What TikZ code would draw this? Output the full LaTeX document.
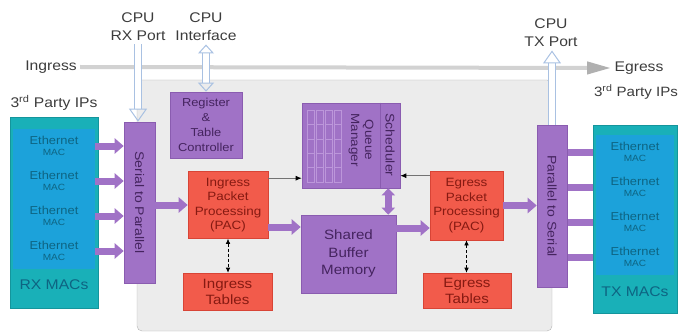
\documentclass[tikz,border=0pt]{standalone}
\usepackage{fontspec}
\setmainfont[FakeStretch=1.12]{Liberation Sans}
\usepackage{tikz}
\usetikzlibrary{arrows.meta}
\usetikzlibrary{backgrounds}

\definecolor{panelgray}{HTML}{ECECEC}
\definecolor{panelline}{HTML}{B4B4B4}
\definecolor{bandgray}{HTML}{D2D2D2}
\definecolor{headgray}{HTML}{B0B0B0}
\definecolor{labelgray}{HTML}{3C3C3C}
\definecolor{blockpurple}{HTML}{A072C6}
\definecolor{purpleline}{HTML}{8A5CB0}
\definecolor{textpurple}{HTML}{45245F}
\definecolor{cellpurple}{HTML}{BC96DA}
\definecolor{blockred}{HTML}{F25B4B}
\definecolor{redline}{HTML}{D84436}
\definecolor{textred}{HTML}{861A12}
\definecolor{macteal}{HTML}{19B0B8}
\definecolor{tealline}{HTML}{14959C}
\definecolor{macblue}{HTML}{1CA2DA}
\definecolor{textteal}{HTML}{0E6482}
\definecolor{portblue}{HTML}{A9C1E2}

\tikzset{
  blk/.style={inner sep=0pt, align=center, line width=0.6pt},
  purplebox/.style={blk, draw=purpleline, fill=blockpurple, text=textpurple},
  redbox/.style={blk, draw=redline, fill=blockred, text=textred},
  macframe/.style={blk, draw=tealline, fill=macteal},
  ethbox/.style={blk, fill=macblue, text=textteal, font=\fontsize{11.5}{11.5}\selectfont},
  biglabel/.style={text=labelgray, align=center, font=\fontsize{14}{18}\selectfont},
  fatarrow/.style={draw=blockpurple, line width=7pt, -{Triangle[length=9pt,width=15pt]}},
  fatboth/.style={draw=blockpurple, line width=7pt, {Triangle[length=7pt,width=13pt]}-{Triangle[length=7pt,width=13pt]}},
  ctrlarrow/.style={draw=black!55, line width=0.8pt, -{Latex[length=6pt,width=5pt,color=black]}},
  lookup/.style={draw=black, densely dashed, line width=0.6pt, {Latex[length=5pt,width=4.5pt]}-{Latex[length=5pt,width=4.5pt]}},
  cpuport/.style={draw=portblue, line width=1pt, double=white, double distance=6pt, -{Triangle[open,length=13pt,width=18pt]}},
  cpuboth/.style={cpuport, {Triangle[open,length=9pt,width=16pt]}-{Triangle[open,length=9pt,width=16pt]}},
  queuecell/.style={draw=cellpurple, line width=0.6pt}
}

\begin{document}
\begin{tikzpicture}[x=1pt,y=-1pt]
\useasboundingbox (0,0) rectangle (679,334);

% switch core
\draw[fill=panelgray, draw=panelline, rounded corners=5pt] (137,80) rectangle (552,331);

% ingress / egress band
\node[biglabel] (ingress) at (51,67) {Ingress};
\node[biglabel] (egress) at (639,68) {Egress};
\draw[draw=bandgray, line width=4pt, -{Triangle[length=24pt,width=12pt,color=headgray]}] (ingress.east) -- (egress.west);

% cpu labels
\node[biglabel] (rxport) at (138,27) {CPU\\RX Port};
\node[biglabel] (cpuif) at (206,27) {CPU\\Interface};
\node[biglabel] (txport) at (551,33) {CPU\\TX Port};

% rx side
\node[biglabel] (rxips) at (54,103) {3\textsuperscript{rd} Party IPs};
\node[macframe, minimum width=88pt, minimum height=191pt] (rxmacs) at (54,212.5) {};
\foreach \i/\y in {1/146,2/181,3/216,4/251} {
  \node[ethbox, minimum width=82pt, minimum height=35pt] (rxeth\i) at (54,\y)
    {Ethernet\\[-1pt]{\fontsize{9}{9}\selectfont MAC}};
}
\node[text=textteal, font=\fontsize{14}{16}\selectfont] (rxname) at (54,285) {RX MACs};
\node[purplebox, minimum width=31pt, minimum height=161pt] (s2p) at (139.5,202.5) {};
\node[rotate=-90, text=textpurple, font=\fontsize{12.5}{14}\selectfont] (s2ptext) at (s2p) {Serial to Parallel};

% core blocks
\node[purplebox, minimum width=72pt, minimum height=66pt, font=\fontsize{11.5}{15}\selectfont] (reg) at (206,125) {Register\\\&\\Table\\Controller};
\node[redbox, minimum width=80pt, minimum height=67pt, font=\fontsize{12}{14.5}\selectfont] (ipac) at (228,205) {Ingress\\Packet\\Processing\\(PAC)};
\node[redbox, minimum width=89pt, minimum height=37pt, font=\fontsize{13.5}{16}\selectfont] (itab) at (227.5,291.5) {Ingress\\Tables};
\node[purplebox, minimum width=98pt, minimum height=85pt] (qm) at (351,145.5) {};
\node[purplebox, minimum width=95pt, minimum height=78pt, font=\fontsize{13.5}{17.5}\selectfont] (sbm) at (348.5,254) {Shared\\Buffer\\Memory};
\node[redbox, minimum width=73pt, minimum height=69pt, font=\fontsize{12}{14.5}\selectfont] (epac) at (466.5,205.5) {Egress\\Packet\\Processing\\(PAC)};
\node[redbox, minimum width=88pt, minimum height=35pt, font=\fontsize{13.5}{16}\selectfont] (etab) at (467,290.5) {Egress\\Tables};

% queue manager inside
\foreach \c in {307,316,325,334} {
  \draw[queuecell] (\c,110) rectangle (\c+7,182);
  \foreach \r in {124.4,138.8,153.2,167.6}
    \draw[queuecell] (\c,\r) -- (\c+7,\r);
}
\draw[purpleline, line width=0.6pt] ([xshift=-20pt]qm.north east) -- ([xshift=-20pt]qm.south east);
\node[rotate=-90, text=textpurple, align=center, font=\fontsize{12}{14}\selectfont] (qmtext) at (361,140) {Queue\\Manager};
\node[rotate=-90, text=textpurple, font=\fontsize{12.5}{14}\selectfont] (sched) at (390,145) {Scheduler};

% tx side
\node[purplebox, minimum width=30pt, minimum height=162pt] (p2s) at (552,206) {};
\node[rotate=-90, text=textpurple, font=\fontsize{12.5}{14}\selectfont] (p2stext) at (p2s) {Parallel to Serial};
\node[biglabel, font=\fontsize{13.5}{18}\selectfont] (txips) at (636,92) {3\textsuperscript{rd} Party IPs};
\node[macframe, minimum width=84pt, minimum height=188pt] (txmacs) at (635,219) {};
\foreach \i/\y in {1/152,2/187,3/222,4/257} {
  \node[ethbox, minimum width=78pt, minimum height=35pt] (txeth\i) at (635,\y)
    {Ethernet\\[-1pt]{\fontsize{9}{9}\selectfont MAC}};
}
\node[text=textteal, font=\fontsize{14}{16}\selectfont] (txname) at (635,292) {TX MACs};

% data path
\foreach \i in {1,...,4}
  \draw[fatarrow] (rxeth\i.east) -- (rxeth\i.east -| s2p.west);
\draw[fatarrow] (s2p.east |- ipac.west) -- (ipac.west);
\path ([yshift=-22pt]ipac.east) coordinate (ipacout);
\draw[fatarrow] (ipacout) -- (ipacout -| sbm.west);
\path ([xshift=-12pt]qm.south east) coordinate (qmbot);
\draw[fatboth] (qmbot) -- (qmbot |- sbm.north);
\path ([yshift=26pt]sbm.east) coordinate (sbmout);
\draw[fatarrow] (sbmout) -- (sbmout -| epac.west);
\draw[fatarrow] (epac.east) -- (epac.east -| p2s.west);
\begin{scope}[on background layer]
\foreach \i in {1,...,4}
  \draw[fatarrow] (p2s.east |- txeth\i.west) -- ([xshift=8pt]txeth\i.west);
\end{scope}

% control and lookups
\path ([yshift=-7pt]ipac.north east) coordinate (ipacq);
\draw[ctrlarrow] (ipacq) -- (ipacq -| qm.west);
\path ([yshift=-5pt]epac.north west) coordinate (epacq);
\draw[ctrlarrow] (epacq) -- (epacq -| qm.east);
\draw[lookup] (ipac.south) -- (ipac.south |- itab.north);
\draw[lookup] (epac.south) -- (epac.south |- etab.north);

% cpu ports
\draw[cpuport] (rxport.south) -- (rxport.south |- s2p.north);
\draw[cpuboth] (cpuif.south) -- (reg.north);
\draw[cpuport] (p2s.north) -- (p2s.north |- txport.south);
\end{tikzpicture}
\end{document}
